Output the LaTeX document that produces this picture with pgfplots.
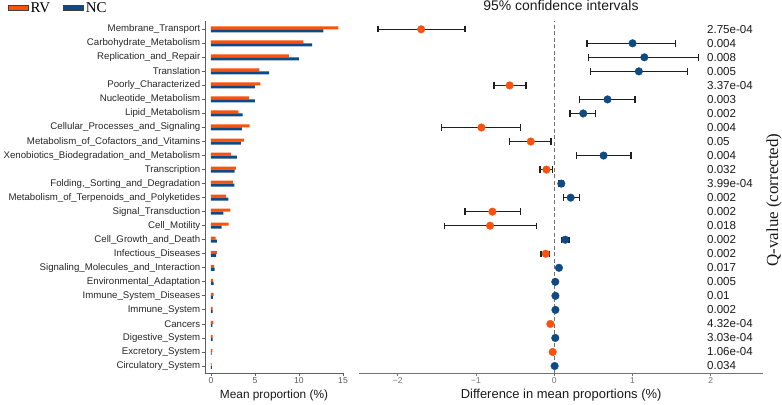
\documentclass[border=0pt]{standalone}
\usepackage{fontspec}
\setmainfont{Liberation Sans}
\newfontfamily\seriff{Liberation Serif}
\usepackage{pgfplots}
\pgfplotsset{compat=1.18}
\definecolor{RV}{RGB}{250,82,12}
\definecolor{NC}{RGB}{16,74,132}
\definecolor{axgray}{RGB}{95,95,95}

\pgfplotstableread{
i  d      ep     em
24 -1.70  0.56   0.55
20 -0.57  0.21   0.20
17 -0.93  0.50   0.51
16 -0.30  0.26   0.27
14 -0.10  0.08   0.08
11 -0.79  0.36   0.35
10 -0.82  0.59   0.58
8  -0.11  0.05   0.06
3  -0.05  0.008  0.008
1  -0.02  0.005  0.005
}\rvdiff

\pgfplotstableread{
i  d      ep     em
23 1.00   0.55   0.58
22 1.15   0.69   0.71
21 1.08   0.62   0.62
19 0.68   0.35   0.36
18 0.37   0.16   0.17
15 0.63   0.35   0.35
13 0.09   0.03   0.03
12 0.21   0.11   0.09
9  0.14   0.05   0.05
7  0.06   0.02   0.02
6  0.013  0.005  0.005
5  0.015  0.005  0.005
4  0.015  0.005  0.005
2  0.013  0.003  0.003
0  0.005  0.002  0.002
}\ncdiff

\pgfplotstableread{
i  rv     nc
24 14.47  12.76
23 10.50  11.50
22 8.86   10.00
21 5.50   6.60
20 5.60   5.00
19 4.30   5.00
18 3.10   3.60
17 4.40   3.50
16 3.75   3.40
15 2.27   2.95
14 2.84   2.70
13 2.50   2.65
12 1.70   1.97
11 2.20   1.40
10 2.00   1.20
9  0.53   0.68
8  0.68   0.57
7  0.35   0.40
6  0.25   0.30
5  0.30   0.22
4  0.18   0.18
3  0.28   0.15
2  0.18   0.18
1  0.15   0.08
0  0.08   0.10
}\props

\begin{document}
\begin{tikzpicture}
\path (0,0) rectangle (782bp,405bp);
\begin{axis}[
  at={(205bp,31.7bp)}, anchor=south west, scale only axis,
  width=138bp, height=352.3bp,
  xmin=-0.68, xmax=15, ymin=-0.52, ymax=24.59,
  axis x line*=bottom, axis y line*=left,
  axis line style={axgray, line width=0.8bp, -},
  ytick={0,...,24},
  yticklabels={Circulatory\_System, Excretory\_System, Digestive\_System, Cancers, Immune\_System, Immune\_System\_Diseases, Environmental\_Adaptation, Signaling\_Molecules\_and\_Interaction, Infectious\_Diseases, Cell\_Growth\_and\_Death, Cell\_Motility, Signal\_Transduction, Metabolism\_of\_Terpenoids\_and\_Polyketides, {Folding,\_Sorting\_and\_Degradation}, Transcription, Xenobiotics\_Biodegradation\_and\_Metabolism, Metabolism\_of\_Cofactors\_and\_Vitamins, Cellular\_Processes\_and\_Signaling, Lipid\_Metabolism, Nucleotide\_Metabolism, Poorly\_Characterized, Translation, Replication\_and\_Repair, Carbohydrate\_Metabolism, Membrane\_Transport},
  xtick={0,5,10,15},
  xticklabels={0,5,10,15},
  tick align=outside, major tick length=3bp,
  tick style={axgray, line width=0.8bp},
  yticklabel style={font=\fontsize{9.7}{10}\selectfont, text=black!85, inner sep=1.5bp},
  xticklabel style={font=\fontsize{8.6}{9}\selectfont, text=black!65, inner sep=1.5bp},
  xlabel={Mean proportion (\%)},
  xlabel style={font=\fontsize{11.9}{12}\selectfont, text=black!90, yshift=-1bp},
  legend style={at={(-1.43,1.0596)}, anchor=north west, draw=none, fill=none,
    legend columns=2, font=\seriff\fontsize{15}{15}\selectfont, inner sep=0pt,
    /tikz/every even column/.append style={column sep=11bp},
    legend cell align=left},
  clip=false,
]
\addplot[xbar, forget plot, bar width=3bp, bar shift=1.5bp, fill=RV, draw=none] table[x=rv, y=i] {\props};
\addplot[xbar, forget plot, bar width=3bp, bar shift=-1.5bp, fill=NC, draw=none] table[x=nc, y=i] {\props};
\addlegendimage{legend image code/.code={\draw[fill=RV, draw=black!75, line width=0.7bp] (0bp,-2.8bp) rectangle (20bp,2.8bp);}}
\addlegendentry{RV}
\addlegendimage{legend image code/.code={\draw[fill=NC, draw=black!75, line width=0.7bp] (0bp,-2.8bp) rectangle (20bp,2.8bp);}}
\addlegendentry{NC}
\end{axis}

\begin{axis}[
  at={(359.3bp,31.7bp)}, anchor=south west, scale only axis,
  width=403.7bp, height=352.3bp,
  xmin=-2.49, xmax=2.666, ymin=-0.52, ymax=24.59,
  axis x line*=bottom, axis y line=none,
  axis line style={black!55, line width=0.9bp, -},
  ytick=\empty,
  xtick={-2,-1,0,1,2},
  xticklabels={−2,−1,0,1,2},
  tick align=outside, major tick length=3bp,
  tick style={black!55, line width=0.8bp},
  xticklabel style={font=\fontsize{8.6}{9}\selectfont, text=black!55, inner sep=1.5bp},
  xlabel={Difference in mean proportions (\%)},
  xlabel style={font=\fontsize{13}{13}\selectfont, text=black!90, yshift=-0.5bp},
  clip=false,
]
\addplot[black!55, dashed, line width=0.9bp, dash pattern=on 4bp off 2.5bp] coordinates {(0,-0.52) (0,24.59)};
\addplot[only marks, mark=none, black!85, forget plot,
  error bars/.cd, x dir=both, x explicit, error mark=|,
  error bar style={draw=black!88, line width=1.35bp},
  error mark options={draw=black!88, line width=1.35bp, mark size=3.2bp}]
  table[x=d, y=i, x error plus=ep, x error minus=em] {\rvdiff};
\addplot[only marks, mark=none, black!85, forget plot,
  error bars/.cd, x dir=both, x explicit, error mark=|,
  error bar style={draw=black!88, line width=1.35bp},
  error mark options={draw=black!88, line width=1.35bp, mark size=3.2bp}]
  table[x=d, y=i, x error plus=ep, x error minus=em] {\ncdiff};
\addplot[only marks, mark=*, mark size=3.8bp, RV, mark options={draw=RV, fill=RV}] table[x=d, y=i] {\rvdiff};
\addplot[only marks, mark=*, mark size=3.8bp, NC, mark options={draw=NC, fill=NC}] table[x=d, y=i] {\ncdiff};
\begin{scope}[every node/.style={anchor=west, font=\fontsize{11.6}{11.6}\selectfont, text=black!90, inner sep=0pt}]
\node at (axis cs:1.95,24) {2.75e-04};
\node at (axis cs:1.95,23) {0.004};
\node at (axis cs:1.95,22) {0.008};
\node at (axis cs:1.95,21) {0.005};
\node at (axis cs:1.95,20) {3.37e-04};
\node at (axis cs:1.95,19) {0.003};
\node at (axis cs:1.95,18) {0.002};
\node at (axis cs:1.95,17) {0.004};
\node at (axis cs:1.95,16) {0.05};
\node at (axis cs:1.95,15) {0.004};
\node at (axis cs:1.95,14) {0.032};
\node at (axis cs:1.95,13) {3.99e-04};
\node at (axis cs:1.95,12) {0.002};
\node at (axis cs:1.95,11) {0.002};
\node at (axis cs:1.95,10) {0.018};
\node at (axis cs:1.95,9) {0.002};
\node at (axis cs:1.95,8) {0.002};
\node at (axis cs:1.95,7) {0.017};
\node at (axis cs:1.95,6) {0.005};
\node at (axis cs:1.95,5) {0.01};
\node at (axis cs:1.95,4) {0.002};
\node at (axis cs:1.95,3) {4.32e-04};
\node at (axis cs:1.95,2) {3.03e-04};
\node at (axis cs:1.95,1) {1.06e-04};
\node at (axis cs:1.95,0) {0.034};
\end{scope}
\end{axis}

\node[anchor=base, font=\fontsize{14}{14}\selectfont, text=black!90, inner sep=0pt] at (561bp,394bp) {95\% confidence intervals};
\node[rotate=90, font=\seriff\fontsize{17}{17}\selectfont, text=black!90, inner sep=0pt] at (774bp,205bp) {Q-value (corrected)};
\end{tikzpicture}
\end{document}
